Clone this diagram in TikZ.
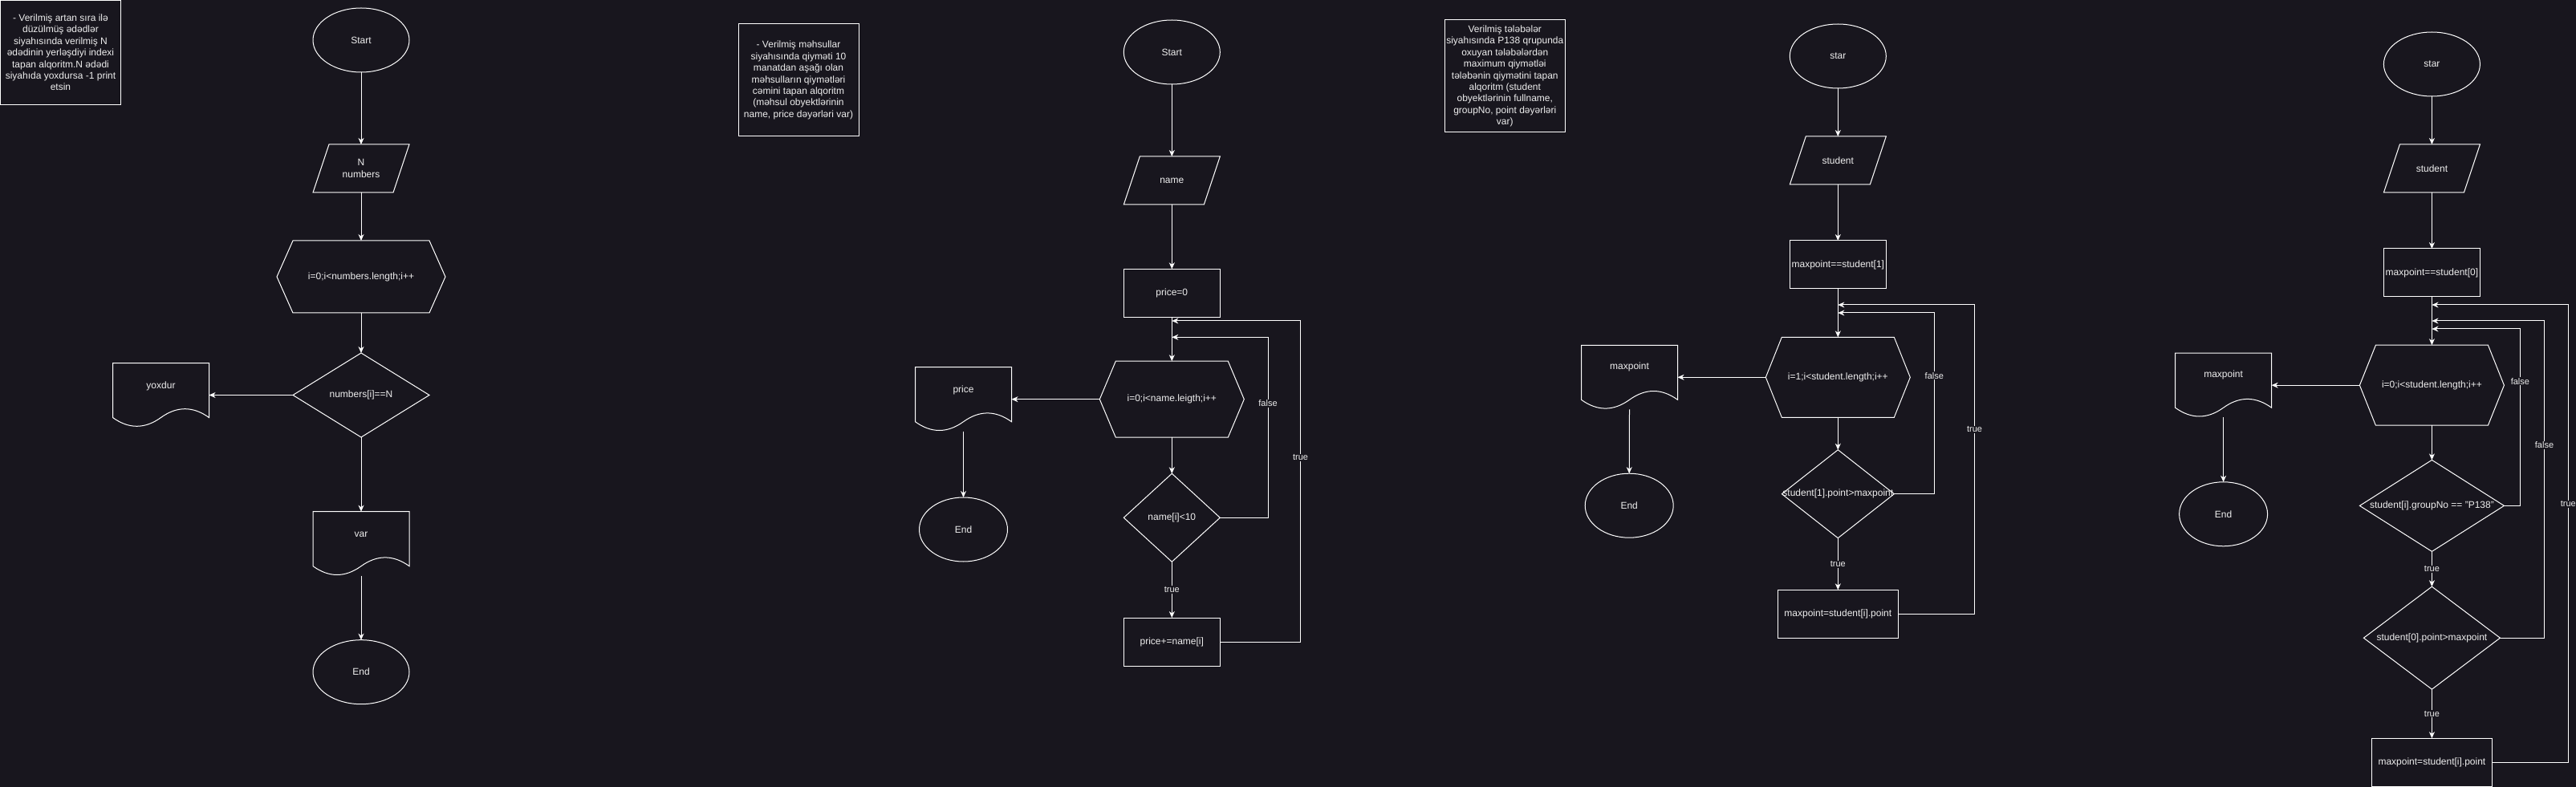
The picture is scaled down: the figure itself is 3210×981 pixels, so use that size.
\documentclass[tikz,border=0pt]{standalone}
\usepackage{fontspec}
\setmainfont{Liberation Sans}
\usetikzlibrary{arrows.meta,calc,shapes.geometric}
\definecolor{bg}{RGB}{24,22,30}
\definecolor{fg}{RGB}{238,238,238}
\tikzset{
 ln/.style={draw=white, line width=1pt},
 arr/.style={ln, -{Stealth[length=8pt,width=7pt,inset=2.5pt]}},
 base/.style={inner sep=0pt, outer sep=0pt, text=fg, font=\fontsize{12}{14.4}\selectfont, align=center},
 elli/.style={base, ellipse, draw=white, line width=1pt, minimum width=#1, minimum height=80pt},
 boxn/.style 2 args={base, rectangle, draw=white, line width=1pt, minimum width=#1, minimum height=#2},
 ghost/.style 2 args={base, rectangle, minimum width=#1, minimum height=#2},
 lbl/.style={fill=bg, text=fg, inner sep=1pt, font=\fontsize{11}{13}\selectfont},
}
\newcommand\paral[1]{\draw[ln] ($(#1.north west)+(20,0)$) -- (#1.north east) -- ($(#1.south east)+(-20,0)$) -- (#1.south west) -- cycle;}
\newcommand\hexa[1]{\draw[ln] ($(#1.north west)+(20,0)$) -- ($(#1.north east)+(-20,0)$) -- (#1.east) -- ($(#1.south east)+(-20,0)$) -- ($(#1.south west)+(20,0)$) -- (#1.west) -- cycle;}
\newcommand\diam[1]{\draw[ln] (#1.north) -- (#1.east) -- (#1.south) -- (#1.west) -- cycle;}
\newcommand\docu[1]{\draw[ln] (#1.north west) -- (#1.north east) -- ($(#1.north east)+(0,68)$) .. controls ($(#1.north west)+(100,53.6)$) and ($(#1.north west)+(80,53.6)$) .. ($(#1.north west)+(60,68)$) .. controls ($(#1.north west)+(40,82.4)$) and ($(#1.north west)+(20,82.4)$) .. ($(#1.north west)+(0,68)$) -- cycle;}
\begin{document}
\begin{tikzpicture}[x=1pt,y=-1pt]
\fill[bg] (0,0) rectangle (3210,981);
\useasboundingbox (0,0) rectangle (3210,981);

% ---------------- Diagram 1 ----------------
\node[boxn={150pt}{130pt}] (t1) at (75.5,65.5) {- Verilmiş artan sıra ilə\\düzülmüş ədədlər\\siyahısında verilmiş N\\ədədinin yerləşdiyi indexi\\tapan alqoritm.N ədədi\\siyahıda yoxdursa -1 print\\etsin};
\node[elli=120pt] (s1) at (450,50) {Start};
\node[ghost={120pt}{60pt}] (i1) at (450,210) {N\\numbers}; \paral{i1}
\node[ghost={210pt}{90pt}] (l1) at (450,345) {i=0;i<numbers.length;i++}; \hexa{l1}
\node[ghost={170pt}{105pt}] (c1) at (450,492.5) {\makebox[0pt]{numbers[i]==N}}; \diam{c1}
\node[ghost={120pt}{80pt}] (n1) at (200.5,492.5) {}; \docu{n1}
\node[base] (n1t) at (200.5,481) {yoxdur};
\node[ghost={120pt}{80pt}] (v1) at (450,677.7) {}; \docu{v1}
\node[base] (v1t) at (450,666) {var};
\node[elli=120pt] (e1) at (450,837.7) {End};
\draw[arr] (s1.south) -- (i1.north);
\draw[arr] (i1.south) -- (l1.north);
\draw[arr] (l1.south) -- (c1.north);
\draw[arr] (c1.west) -- (n1.east);
\draw[arr] (c1.south) -- (v1.north);
\draw[arr] (v1.south) -- (e1.north);

% ---------------- Diagram 2 ----------------
\node[boxn={150pt}{140pt}] (t2) at (995,100) {- Verilmiş məhsullar\\siyahısında qiyməti 10\\manatdan aşağı olan\\məhsulların qiymətləri\\cəmini tapan alqoritm\\(məhsul obyektlərinin\\name, price dəyərləri var)};
\node[elli=120pt] (s2) at (1460.3,65) {Start};
\node[ghost={120pt}{60pt}] (i2) at (1460.3,225) {name}; \paral{i2}
\node[boxn={120pt}{60pt}] (p2) at (1460.3,365.3) {price=0};
\node[ghost={180pt}{95pt}] (l2) at (1460.3,497.7) {i=0;i<name.leigth;i++}; \hexa{l2}
\node[ghost={120pt}{80pt}] (o2) at (1200.5,497.7) {}; \docu{o2}
\node[base] (o2t) at (1200.5,486) {price};
\node[elli=110pt] (e2) at (1200.5,660) {End};
\node[ghost={120pt}{110pt}] (c2) at (1460.3,645.3) {\makebox[0pt]{name[i]<10}}; \diam{c2}
\node[boxn={120pt}{60pt}] (u2) at (1460.3,800) {price+=name[i]};
\coordinate (j2a) at (1460.3,400);
\coordinate (j2b) at (1460.3,420.3);
\coordinate (k2a) at (1620.5,400);
\coordinate (k2b) at (1580,420.3);
\draw[arr] (s2.south) -- (i2.north);
\draw[arr] (i2.south) -- (p2.north);
\draw[arr] (p2.south) -- (l2.north);
\draw[arr] (l2.west) -- (o2.east);
\draw[arr] (o2.south) -- (e2.north);
\draw[arr] (l2.south) -- (c2.north);
\draw[arr] (c2.south) -- (u2.north);
\draw[arr] (c2.east) -| (k2b) -- (j2b);
\draw[arr] (u2.east) -| (k2a) -- (j2a);
\node[lbl] (tr2) at (1460.3,735) {true};
\node[lbl] (f2) at (1580,503) {false};
\node[lbl] (r2) at (1620.5,570.3) {true};

% ---------------- Diagram 3 ----------------
\node[boxn={150pt}{140pt}] (t3) at (1875.3,95) {Verilmiş tələbələr\\siyahısında P138 qrupunda\\oxuyan tələbələrdən\\maximum qiymətləi\\tələbənin qiymətini tapan\\alqoritm (student\\obyektlərinin fullname,\\groupNo, point dəyərləri\\var)};
\node[elli=120pt] (s3) at (2290.3,70) {star};
\node[ghost={120pt}{60pt}] (i3) at (2290.3,200) {student}; \paral{i3}
\node[boxn={120pt}{60pt}] (p3) at (2290.3,330) {maxpoint==student[1]};
\node[ghost={180pt}{100pt}] (l3) at (2290.3,470.3) {i=1;i<student.length;i++}; \hexa{l3}
\node[ghost={120pt}{80pt}] (o3) at (2030.5,470.3) {}; \docu{o3}
\node[base] (o3t) at (2030.5,457.7) {maxpoint};
\node[elli=110pt] (e3) at (2030.2,630.2) {End};
\node[ghost={140pt}{110pt}] (c3) at (2290.3,615.7) {\makebox[0pt]{student[1].point>maxpoint}}; \diam{c3}
\node[boxn={150pt}{60pt}] (u3) at (2290.3,765.3) {maxpoint=student[i].point};
\coordinate (j3a) at (2290.3,380);
\coordinate (j3b) at (2290.3,390);
\coordinate (k3a) at (2460.5,380);
\coordinate (k3b) at (2410.3,390);
\draw[arr] (s3.south) -- (i3.north);
\draw[arr] (i3.south) -- (p3.north);
\draw[arr] (p3.south) -- (l3.north);
\draw[arr] (l3.west) -- (o3.east);
\draw[arr] (o3.south) -- (e3.north);
\draw[arr] (l3.south) -- (c3.north);
\draw[arr] (c3.south) -- (u3.north);
\draw[arr] (c3.east) -| (k3b) -- (j3b);
\draw[arr] (u3.east) -| (k3a) -- (j3a);
\node[lbl] (tr3) at (2290.3,703.3) {true};
\node[lbl] (f3) at (2410.3,468.3) {false};
\node[lbl] (r3) at (2460.5,535.3) {true};

% ---------------- Diagram 4 ----------------
\node[elli=120pt] (s4) at (3030.4,80) {star};
\node[ghost={120pt}{60pt}] (i4) at (3030.4,210) {student}; \paral{i4}
\node[boxn={120pt}{60pt}] (p4) at (3030.4,340) {maxpoint==student[0]};
\node[ghost={180pt}{100pt}] (l4) at (3030.4,480.2) {i=0;i<student.length;i++}; \hexa{l4}
\node[ghost={120pt}{80pt}] (o4) at (2770.6,480.2) {}; \docu{o4}
\node[base] (o4t) at (2770.6,467.6) {maxpoint};
\node[elli=110pt] (e4) at (2770.6,640.8) {End};
\node[ghost={180pt}{114pt}] (c4) at (3030.4,630.4) {\makebox[0pt]{student[i].groupNo == "P138"}}; \diam{c4}
\node[ghost={170pt}{128pt}] (d4) at (3030.4,795.2) {\makebox[0pt]{student[0].point>maxpoint}}; \diam{d4}
\node[boxn={150pt}{60pt}] (u4) at (3030.4,950.2) {maxpoint=student[i].point};
\coordinate (j4a) at (3030.4,380);
\coordinate (j4b) at (3030.4,400);
\coordinate (j4c) at (3030.4,410);
\coordinate (k4a) at (3200.3,380);
\coordinate (k4b) at (3170.5,400);
\coordinate (k4c) at (3140.4,410);
\draw[arr] (s4.south) -- (i4.north);
\draw[arr] (i4.south) -- (p4.north);
\draw[arr] (p4.south) -- (l4.north);
\draw[arr] (l4.west) -- (o4.east);
\draw[arr] (o4.south) -- (e4.north);
\draw[arr] (l4.south) -- (c4.north);
\draw[arr] (c4.south) -- (d4.north);
\draw[arr] (d4.south) -- (u4.north);
\draw[arr] (c4.east) -| (k4c) -- (j4c);
\draw[arr] (d4.east) -| (k4b) -- (j4b);
\draw[arr] (u4.east) -| (k4a) -- (j4a);
\node[lbl] (tr4a) at (3030.4,709.3) {true};
\node[lbl] (tr4b) at (3030.4,889.7) {true};
\node[lbl] (f4a) at (3140.4,475.3) {false};
\node[lbl] (f4b) at (3170.5,554.9) {false};
\node[lbl] (r4) at (3200.3,628.4) {true};
\end{tikzpicture}
\end{document}
